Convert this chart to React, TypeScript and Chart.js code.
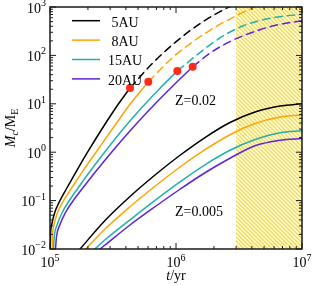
import React, { useEffect, useRef } from 'react';
import { Chart, registerables } from 'chart.js';
Chart.register(...registerables);

const FONT = '"Liberation Serif", "Times New Roman", serif';

// series labels and colours
const seriesLabels = [' 5AU', ' 8AU', '15AU', '20AU'];
const seriesColors = ['#000000', '#FFA500', '#20B2AA', '#5B24D6'];

// axis ticks (exponents of ten)
const xTickExps = [5, 6, 7];
const yTickExps = [-2, -1, 0, 1, 2, 3];

// shaded interval (yr)
const hatchRange = [3e6, 1e7];

// ---- Z = 0.02, core growth (solid) : t [yr], Mc [M_E]
const z02Solid5T = [1.0037e5, 1.0077e5, 1.0308e5, 1.0873e5, 1.1952e5, 1.3479e5, 1.6095e5, 1.9867e5, 2.6134e5, 3.4996e5, 4.3146e5];
const z02Solid5M = [0.00931, 0.0177, 0.03131, 0.05543, 0.0981, 0.1737, 0.3936, 1.0, 3.162, 10.0, 21.21];
const z02Solid8T = [1.041e5, 1.0463e5, 1.0748e5, 1.1442e5, 1.2764e5, 1.4661e5, 1.8044e5, 2.3206e5, 3.1623e5, 4.3464e5, 6.0288e5];
const z02Solid8M = [0.00931, 0.0177, 0.03131, 0.05543, 0.0981, 0.1737, 0.3936, 1.0, 3.162, 10.0, 28.62];
const z02Solid15T = [1.0641e5, 1.0809e5, 1.1379e5, 1.2442e5, 1.415e5, 1.6469e5, 2.0661e5, 2.7123e5, 3.8644e5, 5.7058e5, 7.4927e5, 1.024e6];
const z02Solid15M = [0.00931, 0.0177, 0.03131, 0.05543, 0.0981, 0.1737, 0.3936, 1.0, 3.162, 10.0, 21.21, 47.62];
const z02Solid20T = [1.1037e5, 1.1255e5, 1.195e5, 1.3212e5, 1.5224e5, 1.7955e5, 2.2974e5, 3.0794e5, 4.5252e5, 6.8376e5, 9.0927e5, 1.3569e6];
const z02Solid20M = [0.00931, 0.0177, 0.03131, 0.05543, 0.0981, 0.1737, 0.3936, 1.0, 3.162, 10.0, 21.21, 58.42];

// ---- Z = 0.02, runaway phase (dashed)
const z02Dash5T = [4.3146e5, 6.45e5, 9.82e5, 1.551e6, 2.235e6, 3.22e6];
const z02Dash5M = [21.21, 67.07, 183.9, 454, 803.5, 1293];
const z02Dash8T = [6.0288e5, 9.82e5, 1.861e6, 2.94e6, 4.236e6, 5.572e6];
const z02Dash8M = [28.62, 99.5, 330, 642.7, 1005, 1337];
const z02Dash15T = [1.024e6, 1.861e6, 2.526e6, 3.42e6, 4.642e6, 6.3e6, 1e7];
const z02Dash15M = [47.62, 165.6, 279.4, 408.9, 526.2, 615.8, 709.8];
const z02Dash20T = [1.3569e6, 1.861e6, 2.526e6, 3.42e6, 4.642e6, 6.3e6, 1e7];
const z02Dash20M = [58.42, 111.0, 178.7, 255.3, 339.6, 424.8, 521.2];

// ---- crossover points (red dots)
const crossT = [4.3146e5, 6.0288e5, 1.024e6, 1.3569e6];
const crossM = [21.21, 28.62, 47.62, 58.42];

// ---- Z = 0.005 (solid)
const z005_5T = [1.699e5, 2.733e5, 4.314e5, 6.813e5, 1.076e6, 1.699e6, 2.683e6, 4.236e6, 6.69e6, 1e7];
const z005_5M = [0.00945, 0.0388, 0.1215, 0.338, 0.865, 2.012, 4.108, 6.77, 9.006, 10.0];
const z005_8T = [1.861e5, 2.733e5, 4.314e5, 6.813e5, 1.076e6, 1.699e6, 2.683e6, 4.236e6, 6.69e6, 1e7];
const z005_8M = [0.00909, 0.02589, 0.07462, 0.1978, 0.4945, 1.124, 2.294, 3.917, 5.338, 5.87];
const z005_15T = [2.194e5, 2.733e5, 4.314e5, 6.813e5, 1.076e6, 1.699e6, 2.683e6, 4.236e6, 6.69e6, 1e7];
const z005_15M = [0.00918, 0.01549, 0.04011, 0.1014, 0.2445, 0.5491, 1.095, 1.83, 2.522, 2.768];
const z005_20T = [2.404e5, 2.733e5, 4.314e5, 6.813e5, 1.076e6, 1.699e6, 2.683e6, 4.236e6, 6.69e6, 1e7];
const z005_20M = [0.00927, 0.0121, 0.03131, 0.07462, 0.1716, 0.3762, 0.7499, 1.359, 1.766, 1.919];

const pts = (t: number[], m: number[]) => t.map((v, i) => ({ x: v, y: m[i] }));

const z02Solid = [
  pts(z02Solid5T, z02Solid5M), pts(z02Solid8T, z02Solid8M),
  pts(z02Solid15T, z02Solid15M), pts(z02Solid20T, z02Solid20M),
];
const z02Dash = [
  pts(z02Dash5T, z02Dash5M), pts(z02Dash8T, z02Dash8M),
  pts(z02Dash15T, z02Dash15M), pts(z02Dash20T, z02Dash20M),
];
const z005 = [
  pts(z005_5T, z005_5M), pts(z005_8T, z005_8M),
  pts(z005_15T, z005_15M), pts(z005_20T, z005_20M),
];

function hexA(hex: string, a: number) {
  const n = parseInt(hex.slice(1), 16);
  return `rgba(${(n >> 16) & 255},${(n >> 8) & 255},${n & 255},${a})`;
}

function drawPow(ctx: CanvasRenderingContext2D, exp: number, x: number, base: number, align: 'right' | 'center') {
  const supTxt = exp < 0 ? '\u2212' + Math.abs(exp) : String(exp);
  ctx.font = `14px ${FONT}`;
  const w1 = ctx.measureText('10').width;
  ctx.font = `10px ${FONT}`;
  const w2 = ctx.measureText(supTxt).width;
  const total = w1 + w2;
  const x0 = align === 'right' ? x - total : x - total / 2;
  ctx.textAlign = 'left';
  ctx.textBaseline = 'alphabetic';
  ctx.font = `14px ${FONT}`;
  ctx.fillText('10', x0, base);
  ctx.font = `10px ${FONT}`;
  ctx.fillText(supTxt, x0 + w1, base - 6.5);
}

const decorPlugin = {
  id: 'decor',
  beforeDatasetsDraw(chart: any) {
    const { ctx, chartArea: a, scales } = chart;
    const x0 = scales.x.getPixelForValue(hatchRange[0]);
    const x1 = scales.x.getPixelForValue(hatchRange[1]);
    ctx.save();
    ctx.beginPath();
    ctx.rect(x0, a.top, x1 - x0, a.bottom - a.top);
    ctx.clip();
    ctx.strokeStyle = '#FFDA1A';
    ctx.lineWidth = 1.3;
    const h = a.bottom - a.top;
    ctx.beginPath();
    for (let s = x0 - h; s < x1 + 4; s += 4) {
      ctx.moveTo(s, a.top);
      ctx.lineTo(s + h, a.bottom);
    }
    ctx.stroke();
    ctx.restore();
  },
  afterDraw(chart: any) {
    const { ctx, chartArea: a, scales } = chart;
    const xs = scales.x, ys = scales.y;
    ctx.save();
    ctx.fillStyle = '#000';
    ctx.strokeStyle = '#1a1a1a';
    // frame
    ctx.lineWidth = 1.5;
    ctx.strokeRect(a.left, a.top, a.right - a.left, a.bottom - a.top);
    // ticks
    ctx.lineWidth = 1;
    ctx.beginPath();
    for (let e = xTickExps[0]; e <= xTickExps[xTickExps.length - 1]; e++) {
      for (let m = 1; m <= 9; m++) {
        const v = m * Math.pow(10, e);
        if (v > xs.max * 1.0001) break;
        const p = xs.getPixelForValue(v);
        const len = m === 1 ? 6 : 3;
        ctx.moveTo(p, a.bottom); ctx.lineTo(p, a.bottom - len);
        ctx.moveTo(p, a.top); ctx.lineTo(p, a.top + len);
      }
    }
    for (let e = yTickExps[0]; e <= yTickExps[yTickExps.length - 1]; e++) {
      for (let m = 1; m <= 9; m++) {
        const v = m * Math.pow(10, e);
        if (v > ys.max * 1.0001) break;
        const p = ys.getPixelForValue(v);
        const len = m === 1 ? 6 : 3;
        ctx.moveTo(a.left, p); ctx.lineTo(a.left + len, p);
        ctx.moveTo(a.right, p); ctx.lineTo(a.right - len, p);
      }
    }
    ctx.stroke();

    // tick labels
    yTickExps.forEach((e) => {
      const p = ys.getPixelForValue(Math.pow(10, e));
      drawPow(ctx, e, a.left - 4, p + 5.5, 'right');
    });
    xTickExps.forEach((e) => {
      const p = xs.getPixelForValue(Math.pow(10, e));
      drawPow(ctx, e, p, a.bottom + 18, 'center');
    });

    // x title: t/yr
    ctx.textBaseline = 'alphabetic';
    ctx.textAlign = 'left';
    ctx.font = `italic 14px ${FONT}`;
    const wt = ctx.measureText('t').width;
    ctx.font = `14px ${FONT}`;
    const wr = ctx.measureText('/yr').width;
    const cx = (a.left + a.right) / 2;
    const sx = cx - (wt + wr) / 2;
    ctx.font = `italic 14px ${FONT}`;
    ctx.fillText('t', sx, a.bottom + 31);
    ctx.font = `14px ${FONT}`;
    ctx.fillText('/yr', sx + wt, a.bottom + 31);

    // y title: Mc/ME
    ctx.save();
    ctx.translate(15, (a.top + a.bottom) / 2);
    ctx.rotate(-Math.PI / 2);
    const parts: [string, string, number][] = [
      ['M', `italic 14px ${FONT}`, 0],
      ['c', `italic 10px ${FONT}`, 3],
      ['/M', `14px ${FONT}`, 0],
      ['E', `10px ${FONT}`, 3],
    ];
    let tw = 0;
    parts.forEach(([s, f]) => { ctx.font = f; tw += ctx.measureText(s).width; });
    let px = -tw / 2;
    parts.forEach(([s, f, dy]) => {
      ctx.font = f;
      ctx.fillText(s, px, dy);
      px += ctx.measureText(s).width;
    });
    ctx.restore();

    // legend
    ctx.font = `14px ${FONT}`;
    seriesLabels.forEach((lab, i) => {
      const yy = 20.7 + i * 19.4;
      ctx.strokeStyle = seriesColors[i];
      ctx.lineWidth = 1.5;
      ctx.beginPath();
      ctx.moveTo(72, yy);
      ctx.lineTo(100, yy);
      ctx.stroke();
      ctx.fillStyle = '#000';
      ctx.fillText(lab, 108, yy + 5.8);
    });

    // annotations
    ctx.fillText('Z=0.02', xs.getPixelForValue(1e6) - 1, ys.getPixelForValue(10) + 1);
    ctx.fillText('Z=0.005', xs.getPixelForValue(1e6) - 1, ys.getPixelForValue(Math.pow(10, -1.32)));
    ctx.restore();
  },
};

export default function App() {
  const ref = useRef<HTMLCanvasElement>(null);
  useEffect(() => {
    document.body.style.margin = '0';
    const datasets: any[] = [];
    datasets.push({
      type: 'scatter',
      data: pts(crossT, crossM),
      pointRadius: 4,
      pointBackgroundColor: '#FF2A1A',
      pointBorderWidth: 0,
      showLine: false,
      order: 0,
    });
    seriesColors.forEach((c, i) => {
      const common = { pointRadius: 0, cubicInterpolationMode: 'monotone', fill: false };
      datasets.push({ ...common, data: z02Solid[i], borderColor: c, borderWidth: 1.5, order: 1 });
      datasets.push({ ...common, data: z02Dash[i], borderColor: c, borderWidth: 1.5, borderDash: [8.5, 4], order: 2 });
      datasets.push({ ...common, data: z02Dash[i], borderColor: hexA(c, 0.15), borderWidth: 1, order: 3 });
      datasets.push({ ...common, data: z005[i], borderColor: c, borderWidth: 1.5, order: 1 });
    });
    const chart = new Chart(ref.current!, {
      type: 'line',
      data: { datasets },
      options: {
        animation: false,
        responsive: false,
        devicePixelRatio: 1,
        layout: { padding: { top: 7, right: 12, left: 0, bottom: 0 } },
        plugins: { legend: { display: false }, tooltip: { enabled: false } },
        scales: {
          x: {
            type: 'logarithmic', min: 1e5, max: 1e7,
            grid: { display: false }, border: { display: false },
            ticks: { display: false },
            afterFit: (s: any) => { s.height = 37; },
          },
          y: {
            type: 'logarithmic', min: 0.01, max: 1000,
            grid: { display: false }, border: { display: false },
            ticks: { display: false },
            afterFit: (s: any) => { s.width = 50; },
          },
        },
      } as any,
      plugins: [decorPlugin],
    });
    return () => chart.destroy();
  }, []);
  return (
    <div style={{ position: 'absolute', left: 0, top: 0, width: 314, height: 286, background: '#fff' }}>
      <canvas ref={ref} width={314} height={286} />
    </div>
  );
}
